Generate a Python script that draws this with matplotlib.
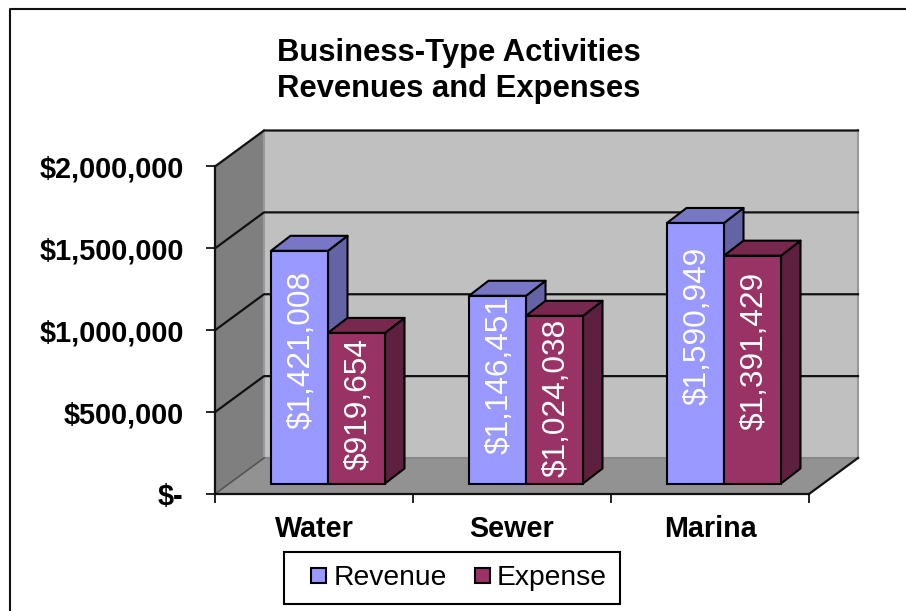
import matplotlib
matplotlib.use("Agg")
from matplotlib import pyplot as plt
from matplotlib.lines import Line2D
from matplotlib.patches import Patch, Rectangle
from matplotlib.legend_handler import HandlerPatch

categories = ["Water", "Sewer", "Marina"]
revenue = [1421008, 1146451, 1590949]
expense = [919654, 1024038, 1391429]
y_ticks = [0, 500000, 1000000, 1500000, 2000000]
y_tick_labels = ["$-", "$500,000", "$1,000,000", "$1,500,000", "$2,000,000"]

# colours
rev_col, rev_side, rev_top = "#9999FF", "#6363A5", "#7777C6"
exp_col, exp_side, exp_top = "#993366", "#5E203F", "#78284F"
wall_col, side_wall_col, floor_col = "#C0C0C0", "#7F7F7F", "#929292"

plt.rcParams["font.family"] = ["Liberation Sans", "DejaVu Sans"]

W, H = 906, 611
PX_X = 198.0            # pixels per category
PX_Y = 327.5 / 2000000  # pixels per dollar
LEFT, BASE = 215, 494   # pixel spot of the front corner of the floor

# 3d look: depth of the box, depth of a bar and the gap in front of a bar
DX, DY = 49 / PX_X, 36 / PX_Y
BAR_DX, BAR_DY = 19.5 / PX_X, 15 / PX_Y
GAP_DX, GAP_DY = 14.5 / PX_X, 10.5 / PX_Y
BAR_W = 57 / PX_X

# how far each data label sits above the middle of its bar, pixels
rev_lift = [17, 15, 27]
exp_lift = [4, 2, 19]

fig = plt.figure(figsize=(W / 100, H / 100), dpi=100, facecolor="white")
ax = fig.add_axes([0, 0, 1, 1], facecolor="none")
ax.set_xlim(-0.5 - LEFT / PX_X, 2.5 + (W - LEFT - 594) / PX_X)
ax.set_ylim(-(H - BASE) / PX_Y, BASE / PX_Y)

x0, x1 = -0.5, 2.5
top = y_ticks[-1]

# walls and floor
ax.fill([x0 + DX, x1 + DX, x1 + DX, x0 + DX], [DY, DY, top + DY, top + DY],
        color=wall_col, lw=0, zorder=1)
ax.fill([x0, x0 + DX, x0 + DX, x0], [0, DY, top + DY, top], color=side_wall_col, lw=0, zorder=1)
ax.fill([x0, x1, x1 + DX, x0 + DX], [0, 0, DY, DY], color=floor_col, lw=0, zorder=1)
ax.plot([x1 + DX, x1 + DX], [DY, top + DY], color="#999999", lw=1.5, zorder=1.5)
ax.plot([x0 + DX, x0 + DX], [DY, top + DY], color="#999999", lw=1.5, zorder=1.5)
ax.plot([x0 + DX, x1 + DX], [DY, DY], color="#888888", lw=1.5, zorder=1.5)

# gridlines run along the side wall and the back wall
for v in y_ticks[1:]:
    ax.plot([x0, x0 + DX, x1 + DX], [v, v + DY, v + DY], color="#111111", lw=1.6, zorder=2)
ax.plot([x0, x0 + DX], [0, DY], color="#555555", lw=1.2, zorder=2)
ax.plot([x1, x1 + DX], [0, DY], color="#111111", lw=1.6, zorder=2)


def draw_bar(left, value, col, side, top_col, label, lift):
    l = left + GAP_DX
    b = GAP_DY
    r = l + BAR_W
    t = b + value
    ax.fill([r, r + BAR_DX, r + BAR_DX, r], [b, b + BAR_DY, t + BAR_DY, t],
            facecolor=side, edgecolor="black", lw=1.5, zorder=3, joinstyle="round")
    ax.fill([l, r, r + BAR_DX, l + BAR_DX], [t, t, t + BAR_DY, t + BAR_DY],
            facecolor=top_col, edgecolor="black", lw=1.5, zorder=3, joinstyle="round")
    ax.bar(l, value, BAR_W, bottom=b, align="edge", color=col, edgecolor="black", lw=1.5, zorder=3)
    ax.text(l + BAR_W / 2 + 2 / PX_X, b + value / 2 + lift / PX_Y, label, color="white", fontsize=22.8,
            rotation=90, ha="center", va="center", zorder=4)


for i in range(len(categories)):
    start = i - 0.5 + 41.5 / PX_X
    draw_bar(start, revenue[i], rev_col, rev_side, rev_top, f"${revenue[i]:,}", rev_lift[i])
    draw_bar(start + BAR_W, expense[i], exp_col, exp_side, exp_top, f"${expense[i]:,}", exp_lift[i])

# axes
for s in ["top", "right"]:
    ax.spines[s].set_visible(False)
ax.spines["left"].set_position(("data", x0))
ax.spines["left"].set_bounds(0, top)
ax.spines["bottom"].set_position(("data", 0))
ax.spines["bottom"].set_bounds(x0, x1)
for s in ["left", "bottom"]:
    ax.spines[s].set_linewidth(1.6)
    ax.spines[s].set_color("#111111")
    ax.spines[s].set_zorder(2.5)

ax.set_yticks(y_ticks)
ax.set_yticklabels(y_tick_labels, fontsize=20.8, fontweight="bold")
ax.tick_params(axis="y", length=6.5, width=1.2, pad=16)
ax.set_xticks([-0.5, 0.5, 1.5, 2.5])
ax.set_xticklabels([])
ax.tick_params(axis="x", length=6.5, width=1.2)
for i, c in enumerate(categories):
    ax.text(i, -35 / PX_Y, c, fontsize=20.7, fontweight="bold", ha="center", va="center")

fig.text(459 / W, 1 - 71 / H, "Business-Type Activities\nRevenues and Expenses", fontsize=22.3,
         fontweight="bold", ha="center", va="center", linespacing=1.3)


def small_square(legend, orig_handle, xdescent, ydescent, width, height, fontsize):
    # 15 px square pushed to the right end of the handle box
    side = 10.8
    return Rectangle((width - xdescent - side, (height - side) / 2 - ydescent), side, side)


handles = [Patch(facecolor=rev_col, edgecolor="black", lw=1.5, label="Revenue"),
           Patch(facecolor=exp_col, edgecolor="black", lw=1.5, label="Expense")]
leg = ax.legend(handles=handles, loc="center", bbox_to_anchor=(452 / W, 1 - 578 / H),
                bbox_transform=fig.transFigure, ncol=2, fontsize=20.3, fancybox=False, framealpha=1,
                edgecolor="black", handlelength=1.03, handleheight=0.72, handletextpad=0.25,
                columnspacing=0.5, borderpad=0.47, borderaxespad=0,
                handler_map={Patch: HandlerPatch(patch_func=small_square)})
leg.get_frame().set_linewidth(1.5)

# outer chart border, runs off the picture on the right and at the bottom
fig.add_artist(Line2D([9.5 / W, 9.5 / W, 1], [0, 1 - 8.5 / H, 1 - 8.5 / H], color="#111111", lw=1.5))

fig.savefig("out.png", dpi=100)
